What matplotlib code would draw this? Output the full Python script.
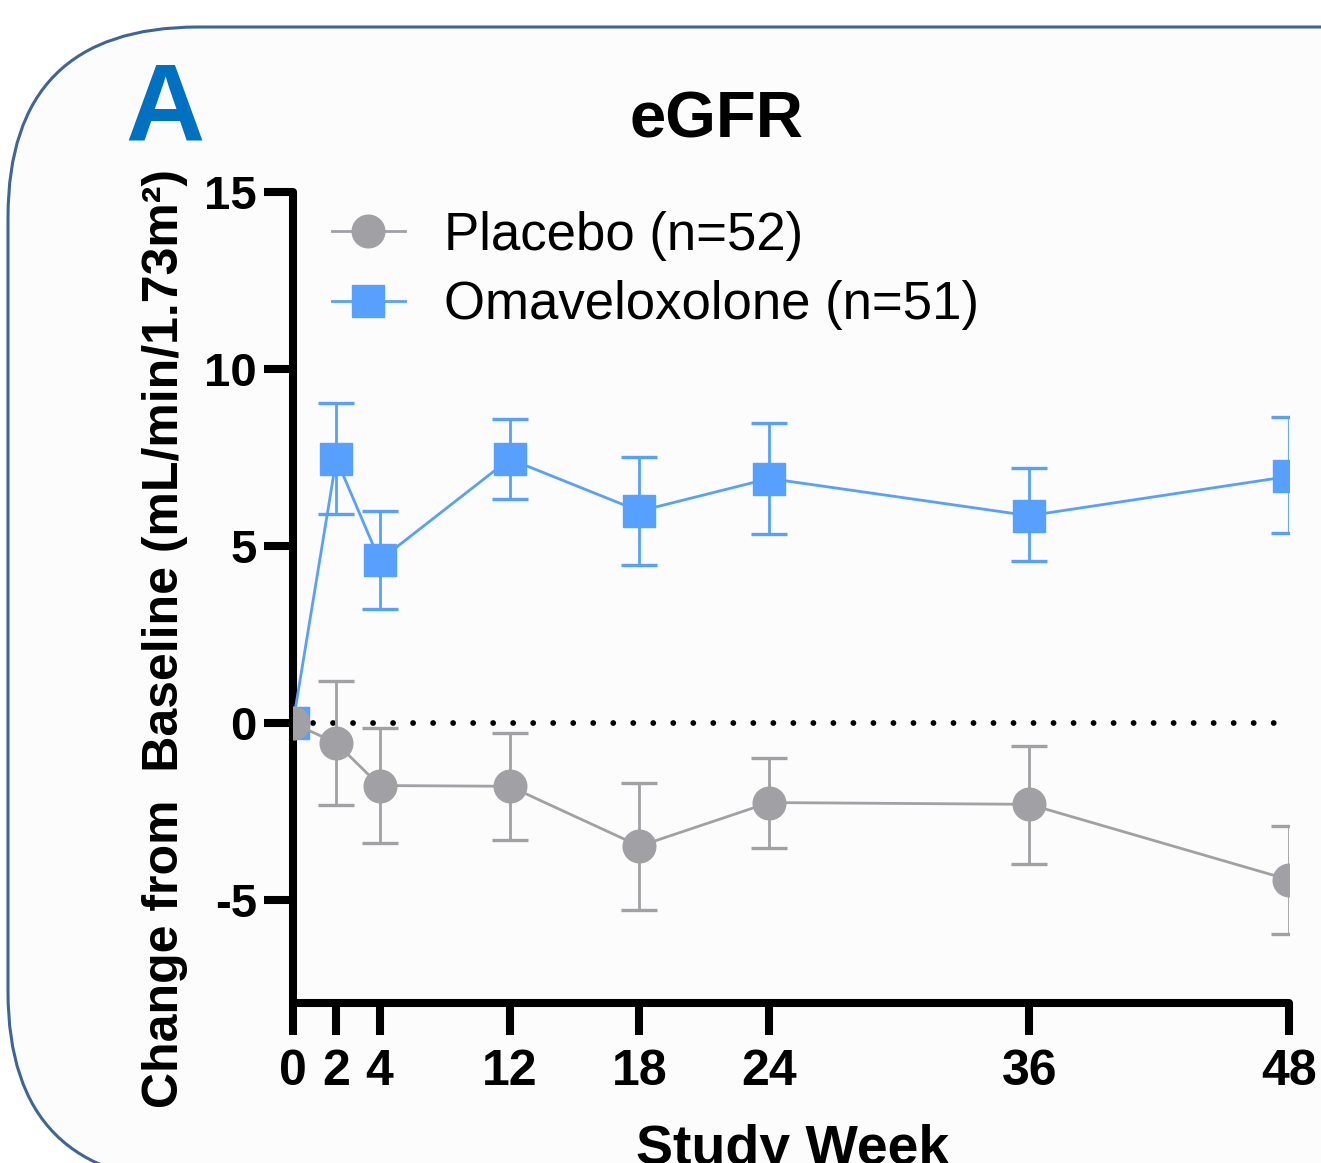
import numpy as np
import matplotlib
matplotlib.use("Agg")
import matplotlib.pyplot as plt
from matplotlib.patches import FancyBboxPatch
from matplotlib.transforms import IdentityTransform

plt.rcParams['font.family'] = ['Liberation Sans', 'DejaVu Sans']

# data
weeks = [0, 2, 4, 12, 18, 24, 36, 48]
week_labels = ['0', '2', '4', '12', '18', '24', '36', '48']

placebo_mean = [0.0, -0.56, -1.76, -1.78, -3.47, -2.24, -2.29, -4.42]
placebo_hi = [np.nan, 1.19, -0.14, -0.27, -1.68, -0.99, -0.65, -2.89]
placebo_lo = [np.nan, -2.32, -3.38, -3.30, -5.27, -3.51, -3.97, -5.95]

omav_mean = [0.0, 7.46, 4.60, 7.46, 5.99, 6.91, 5.86, 6.97]
omav_hi = [np.nan, 9.03, 5.98, 8.60, 7.52, 8.47, 7.20, 8.64]
omav_lo = [np.nan, 5.90, 3.22, 6.32, 4.47, 5.33, 4.59, 5.38]

yticks = [15, 10, 5, 0, -5]

gray = '#A1A1A5'
blue = '#57A0FD'

W, H = 1321, 1163
fig = plt.figure(figsize=(W / 100, H / 100), dpi=100)
fig.patch.set_facecolor('white')

# rounded panel frame
frame = FancyBboxPatch((8, -19), 1700, 1155, boxstyle='round,pad=0,rounding_size=190',
                       transform=IdentityTransform(), facecolor='#FCFCFC',
                       edgecolor='#3F6597', linewidth=2.2, zorder=-5)
fig.patches.append(frame)

ax = fig.add_axes([293 / W, 1 - 1003 / H, 996 / W, 811 / H])
ax.set_facecolor('none')
ax.set_zorder(2)


# x axis in the source compresses the 4-12 interval
def fwd(x):
    x = np.asarray(x, dtype=float)
    return np.where(x < 4, x, np.where(x < 12, 4 + (x - 4) * 0.75, x - 2))


def inv(y):
    y = np.asarray(y, dtype=float)
    return np.where(y < 4, y, np.where(y < 10, 4 + (y - 4) / 0.75, y + 2))


ax.set_xscale('function', functions=(fwd, inv))

w = np.array(weeks, dtype=float)
for mean, hi, lo, col, mk, lab in [
        (omav_mean, omav_hi, omav_lo, blue, 's', 'Omaveloxolone (n=51)'),
        (placebo_mean, placebo_hi, placebo_lo, gray, 'o', 'Placebo (n=52)')]:
    m = np.array(mean)
    err = np.vstack([m - np.array(lo), np.array(hi) - m])
    ax.errorbar(w, m, yerr=err, fmt='none', ecolor=col, elinewidth=2.0,
                capsize=13, capthick=2.4, zorder=2)
    ax.plot(w, m, color=col, lw=2.0, marker=mk, ms=23.5, mec=col, mfc=col,
            label=lab, zorder=3)

ax.axhline(0, color='black', lw=4.2, linestyle=(0, (0.001, 3.43)),
           dash_capstyle='round', zorder=1)

ax.set_xlim(0, 48)
ax.set_ylim(-7.9, 15)
ax.set_xticks(weeks)
ax.set_xticklabels(week_labels)
ax.set_yticks(yticks)
ax.set_yticklabels([str(t) for t in yticks])

for s in ['top', 'right']:
    ax.spines[s].set_visible(False)
for s in ['left', 'bottom']:
    ax.spines[s].set_linewidth(5.8)
    ax.spines[s].set_capstyle('round')

ax.tick_params(axis='y', length=21, width=5.8, pad=5, labelsize=34)
ax.tick_params(axis='x', length=23, width=5.8, pad=10, labelsize=36)
for t in ax.get_yticklabels():
    t.set_fontweight('bold')
for t in ax.get_xticklabels():
    t.set_fontweight('bold')

handles, labels = ax.get_legend_handles_labels()
leg = ax.legend(handles[::-1], labels[::-1], loc='upper left',
                bbox_to_anchor=(39 / 996, 0.977), frameon=False, fontsize=38,
                handlelength=1.38, handletextpad=0.75, labelspacing=0.37,
                borderpad=0, borderaxespad=0)

fig.text(165 / W, 1 - 639 / H, 'Change from  Baseline (mL/min/1.73m²)',
         rotation=90, ha='center', va='center', fontsize=36, fontweight='bold')
fig.text(793 / W, 1 - 1124 / H, 'Study Week', ha='center', va='top',
         fontsize=40, fontweight='bold')
fig.text(716 / W, 1 - 137 / H, 'eGFR', ha='center', va='baseline',
         fontsize=47, fontweight='bold')
fig.text(125 / W, 1 - 139 / H, 'A', ha='left', va='baseline',
         fontsize=79, fontweight='bold', color='#0070C0')

fig.savefig('out.png', dpi=100)
